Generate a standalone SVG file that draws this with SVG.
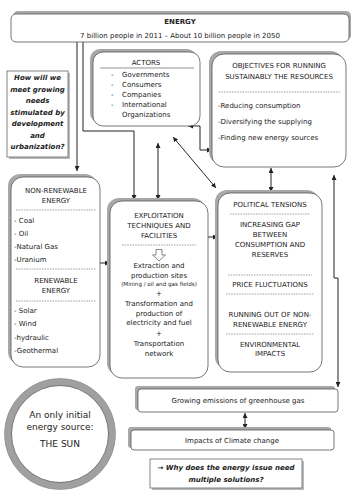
<svg xmlns="http://www.w3.org/2000/svg" width="354" height="500" viewBox="0 0 354 500">
<defs>
<marker id="ah" viewBox="0 0 6 6" refX="6" refY="3" markerWidth="5" markerHeight="5" markerUnits="userSpaceOnUse" orient="auto-start-reverse">
<path d="M0,0 L6,3 L0,6 z" fill="#222"/>
</marker>
<style>
text{font-family:"DejaVu Sans","Liberation Sans",sans-serif;font-size:7px;fill:#222}
.c{text-anchor:middle}
.b{font-weight:bold}
.bi{font-weight:bold;font-style:italic}
.sm{font-size:5.6px}
.big{font-size:9px}
.box{fill:#fff;stroke:#555;stroke-width:0.8}
.sh{fill:#a8a8a8}
.dash{stroke:#666;stroke-width:0.6;stroke-dasharray:1.6,1}
.con{fill:none;stroke:#222;stroke-width:1}
</style>
</defs>
<rect width="354" height="500" fill="#fff"/>

<g id="connectors">
<path class="con" d="M77,42 V171" marker-end="url(#ah)"/>
<path class="con" d="M83,42 V131 H134 V200" marker-end="url(#ah)"/>
<path class="con" d="M158,143 V200" marker-start="url(#ah)" marker-end="url(#ah)"/>
<path class="con" d="M173,137 L216,188" marker-start="url(#ah)" marker-end="url(#ah)"/>
<path class="con" d="M188,126 H200 V150 H212" marker-start="url(#ah)" marker-end="url(#ah)"/>
<path class="con" d="M271,168 V192" marker-start="url(#ah)" marker-end="url(#ah)"/>
<path class="con" d="M334,175 V278 H338 V387" marker-start="url(#ah)" marker-end="url(#ah)"/>
<path class="con" d="M100,263 H110" marker-end="url(#ah)"/>
<path class="con" d="M208,237 H218" marker-end="url(#ah)"/>
<path class="con" d="M245,413 V429" marker-start="url(#ah)" marker-end="url(#ah)"/>
</g>

<g id="energy">
<rect class="sh" x="13" y="11" width="338" height="29" rx="5"/>
<rect class="box" x="11" y="14" width="338" height="28" rx="5"/>
<text class="c b" x="180" y="24">ENERGY</text>
<text class="c" x="180" y="37.5">7 billion people in 2011 – About 10 billion people in 2050</text>
</g>

<g id="question">
<rect x="9" y="73" width="61" height="86" fill="#bbb"/>
<rect x="7" y="71" width="61" height="86" fill="#fff" stroke="#666" stroke-width="0.8"/>
<text class="c bi" x="37.5" y="80">How will we</text>
<text class="c bi" x="37.5" y="91.5">meet growing</text>
<text class="c bi" x="37.5" y="103">needs</text>
<text class="c bi" x="37.5" y="114.5">stimulated by</text>
<text class="c bi" x="37.5" y="126">development</text>
<text class="c bi" x="37.5" y="137.5">and</text>
<text class="c bi" x="37.5" y="149">urbanization?</text>
</g>

<g id="actors">
<rect class="sh" x="90" y="49" width="107" height="74" rx="10"/>
<rect class="box" x="93" y="52" width="107" height="74" rx="10"/>
<text class="c" x="146" y="65">ACTORS</text>
<line x1="100" y1="68" x2="194" y2="68" stroke="#777" stroke-width="0.8"/>
<text x="111" y="76.5">-</text><text x="122" y="76.5">Governments</text>
<text x="111" y="86.5">-</text><text x="122" y="86.5">Consumers</text>
<text x="111" y="96.5">-</text><text x="122" y="96.5">Companies</text>
<text x="111" y="106.5">-</text><text x="122" y="106.5">International</text>
<text x="122" y="116.5">Organizations</text>
</g>

<g id="objectives">
<rect class="sh" x="209" y="51" width="134" height="113" rx="12"/>
<rect class="box" x="212" y="54" width="134" height="113" rx="12"/>
<text class="c" x="279" y="68">OBJECTIVES FOR RUNNING</text>
<text class="c" x="279" y="79">SUSTAINABLY THE RESOURCES</text>
<line class="dash" x1="219" y1="92" x2="340" y2="92"/>
<text x="218" y="108">-Reducing consumption</text>
<text x="218" y="124">-Diversifying the supplying</text>
<text x="218" y="140">-Finding new energy sources</text>
</g>

<g id="nonrenewable">
<rect class="sh" x="8" y="174" width="89" height="190" rx="12"/>
<rect class="box" x="11" y="177" width="89" height="190" rx="12"/>
<text class="c" x="56" y="192.5">NON-RENEWABLE</text>
<text class="c" x="56" y="202.5">ENERGY</text>
<line class="dash" x1="16" y1="210" x2="96" y2="210"/>
<text x="14" y="222.5">- Coal</text>
<text x="14" y="235.5">- Oil</text>
<text x="14" y="248.5">-Natural Gas</text>
<text x="14" y="261.5">-Uranium</text>
<line class="dash" x1="16" y1="269" x2="96" y2="269"/>
<text class="c" x="56" y="282.5">RENEWABLE</text>
<text class="c" x="56" y="292.5">ENERGY</text>
<line class="dash" x1="16" y1="301" x2="96" y2="301"/>
<text x="14" y="312.5">- Solar</text>
<text x="14" y="325.5">- Wind</text>
<text x="14" y="339.5">-hydraulic</text>
<text x="14" y="352.5">-Geothermal</text>
</g>

<g id="exploitation">
<rect class="sh" x="107" y="198" width="98" height="177" rx="12"/>
<rect class="box" x="110" y="201" width="98" height="177" rx="12"/>
<text class="c" x="159" y="217.5">EXPLOITATION</text>
<text class="c" x="159" y="227.5">TECHNIQUES AND</text>
<text class="c" x="159" y="237.5">FACILITIES</text>
<line class="dash" x1="122" y1="245" x2="196" y2="245"/>
<path d="M156,249.5 H162 V255 H165.5 L159,261 L152.5,255 H156 Z" fill="#fff" stroke="#555" stroke-width="0.7"/>
<text class="c" x="159" y="268">Extraction and</text>
<text class="c" x="159" y="278">production sites</text>
<text class="c sm" x="159" y="285.5">(Mining / oil and gas fields)</text>
<text class="c" x="159" y="295.5">+</text>
<text class="c" x="159" y="305.5">Transformation and</text>
<text class="c" x="159" y="315.5">production of</text>
<text class="c" x="159" y="325">electricity and fuel</text>
<text class="c" x="159" y="335.5">+</text>
<text class="c" x="159" y="345.5">Transportation</text>
<text class="c" x="159" y="355.5">network</text>
</g>

<g id="political">
<rect class="sh" x="215" y="190" width="104" height="179" rx="12"/>
<rect class="box" x="218" y="193" width="104" height="179" rx="12"/>
<text class="c" x="270" y="206.5">POLITICAL TENSIONS</text>
<line class="dash" x1="230" y1="214" x2="310" y2="214"/>
<text class="c" x="270" y="226.5">INCREASING GAP</text>
<text class="c" x="270" y="236.5">BETWEEN</text>
<text class="c" x="270" y="246.5">CONSUMPTION AND</text>
<text class="c" x="270" y="256.5">RESERVES</text>
<line class="dash" x1="228" y1="275" x2="312" y2="275"/>
<text class="c" x="270" y="286.5">PRICE FLUCTUATIONS</text>
<line class="dash" x1="226" y1="294" x2="314" y2="294"/>
<text class="c" x="270" y="316.5">RUNNING OUT OF NON-</text>
<text class="c" x="270" y="326.5">RENEWABLE ENERGY</text>
<line class="dash" x1="226" y1="334" x2="314" y2="334"/>
<text class="c" x="270" y="346.5">ENVIRONMENTAL</text>
<text class="c" x="270" y="355.5">IMPACTS</text>
</g>

<g id="sun">
<circle cx="60" cy="434" r="52" fill="#fff" stroke="#a0a0a0" stroke-width="7"/>
<circle cx="60" cy="434" r="55.5" fill="none" stroke="#888" stroke-width="0.6"/>
<circle cx="60" cy="434" r="48.5" fill="none" stroke="#555" stroke-width="0.8"/>
<text class="c big" x="60" y="418">An only initial</text>
<text class="c big" x="60" y="430">energy source:</text>
<text class="c big" x="60" y="447">THE SUN</text>
</g>

<g id="emissions">
<rect class="sh" x="135" y="386" width="200" height="24" rx="3"/>
<rect class="box" x="138" y="389" width="200" height="23" rx="3"/>
<text class="c" x="238" y="403">Growing emissions of greenhouse gas</text>
</g>

<g id="climate">
<rect class="sh" x="128" y="427" width="203" height="21" rx="3"/>
<rect class="box" x="131" y="430" width="203" height="20" rx="3"/>
<text class="c" x="232" y="442.5">Impacts of Climate change</text>
</g>

<g id="why">
<rect x="152" y="461" width="152" height="29" fill="#bbb"/>
<rect x="150" y="459" width="152" height="29" fill="#fff" stroke="#666" stroke-width="0.8"/>
<text class="c bi" x="226" y="470">→ Why does the energy issue need</text>
<text class="c bi" x="226" y="482">multiple solutions?</text>
</g>
</svg>
